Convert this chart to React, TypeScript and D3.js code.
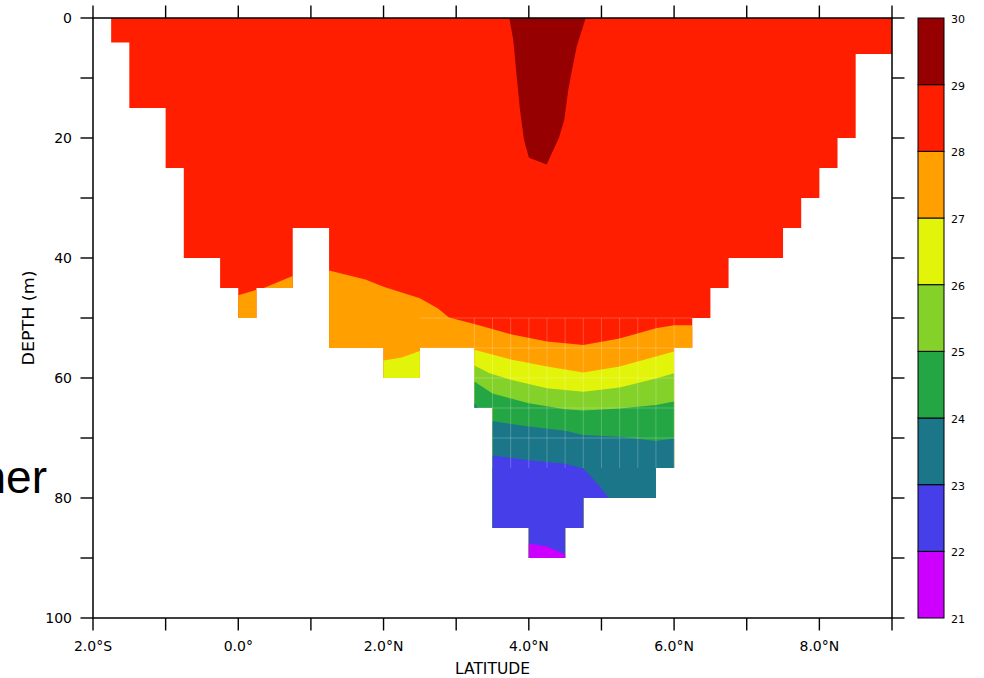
import React from "react";
import * as d3 from "d3";

// Section geometry: ocean columns (latitude edges) and the deepest sampled depth in each
const columnEdges = [-1.75, -1.5, -1.0, -0.75, -0.25, 0, 0.25, 0.75, 1.25, 2.0, 2.5, 3.25, 3.5, 4.0, 4.5, 4.75, 5.75, 6.0, 6.25, 6.5, 6.75, 7.5, 7.75, 8.0, 8.25, 8.5, 9.0];
const columnBottom = [4.1, 15, 25, 40, 45, 50, 45, 35, 55, 60, 55, 65, 85, 90, 85, 80, 75, 55, 50, 45, 40, 35, 30, 25, 20, 6];

// Contour levels and fill colours (one colour per 1°C band, 21..30)
const levels = [21, 22, 23, 24, 25, 26, 27, 28, 29, 30];
const bandColors = ["#cd00ff", "#463ee9", "#1c768a", "#24a645", "#84d12a", "#e2f40a", "#ffa000", "#ff1e00", "#960000"];

// Isotherm depths [latitude, depth m]
const iso28: [number, number][] = [[-0.25, 47], [0, 46.2], [0.25, 45.3], [0.35, 45], [0.75, 43], [1.25, 42.1], [1.75, 43.6], [2.0, 44.8], [2.5, 46.7], [2.75, 48.4], [2.9, 49.9], [3.25, 51], [3.75, 52.7], [4.25, 53.9], [4.75, 54.5], [5.25, 53.4], [5.75, 51.7], [6.0, 51.2], [6.5, 51.2]];
const iso27: [number, number][] = [[1.75, 57.5], [2.0, 57.1], [2.25, 56.6], [2.5, 55.5], [2.75, 55.8], [3.0, 56], [3.25, 55.3], [3.75, 56.9], [4.25, 58.1], [4.75, 59.1], [5.25, 58.1], [5.75, 56.4], [6.0, 55.6], [6.25, 55.6]];
const iso26: [number, number][] = [[3.2, 57.6], [3.25, 57.9], [3.46, 59.2], [3.75, 60.3], [4.25, 61.7], [4.75, 62.3], [5.25, 61.6], [5.75, 60.1], [6.0, 59.2], [6.25, 59.2]];
const iso25: [number, number][] = [[3.2, 60.2], [3.25, 60.6], [3.5, 62.6], [4.0, 64.2], [4.5, 65.2], [4.75, 65.4], [5.25, 65.1], [5.75, 64.5], [6.0, 63.9], [6.25, 63.9]];
const iso24: [number, number][] = [[3.2, 63.8], [3.25, 64.2], [3.31, 65.2], [3.5, 67.2], [4.0, 68.1], [4.5, 68.8], [4.75, 69.5], [5.25, 69.8], [5.75, 70.5], [6.0, 70.1], [6.25, 70.1]];
const iso23: [number, number][] = [[3.4, 72.8], [3.5, 72.9], [4.0, 73.7], [4.5, 74.3], [4.75, 75.1], [4.98, 78.1], [5.1, 80], [5.3, 90], [6.5, 90]];
const iso22: [number, number][] = [[3.9, 87.5], [4.0, 87.6], [4.25, 88.1], [4.5, 89.4], [4.6, 89.8]];
// Warm core (> 29°C) outline, closed at the surface
const iso29: [number, number][] = [[3.731, 0], [3.786, 3.67], [3.833, 9.8], [3.878, 15.3], [3.933, 20.3], [4.002, 23.3], [4.246, 24.4], [4.415, 19.95], [4.488, 17], [4.543, 12], [4.59, 8.95], [4.659, 4.8], [4.783, 0]];

// Isotherm that bounds each colder band from above, with that band's lower level
const coldBands: { lower: number; line: [number, number][] }[] = [
  { lower: 27, line: iso28 },
  { lower: 26, line: iso27 },
  { lower: 25, line: iso26 },
  { lower: 24, line: iso25 },
  { lower: 23, line: iso24 },
  { lower: 22, line: iso23 },
  { lower: 21, line: iso22 },
];

// Faint cell seams of the gridded thermocline fill
const seamLats = d3.range(3.25, 6.001, 0.25);
const seamDepths = [50, 55, 60, 65, 70];

const latTicks = d3.range(-2, 9.001, 1);
const latLabels = [-2, 0, 2, 4, 6, 8];
const depthTicks = d3.range(0, 100.001, 10);
const depthLabels = [0, 20, 40, 60, 80, 100];

const W = 984;
const H = 678;

function latLabel(v: number): string {
  if (v < 0) return `${Math.abs(v).toFixed(1)}°S`;
  if (v === 0) return "0.0°";
  return `${v.toFixed(1)}°N`;
}

export default function App() {
  const x = d3.scaleLinear().domain([-2, 9]).range([93, 892]);
  const y = d3.scaleLinear().domain([0, 100]).range([18, 618]);
  const c = d3.scaleLinear().domain([21, 30]).range([618, 18]);

  const line = d3
    .line<[number, number]>()
    .x((d) => x(d[0]))
    .y((d) => y(d[1]))
    .curve(d3.curveLinear);

  const below = (pts: [number, number][]) => {
    const first = pts[0][0];
    const last = pts[pts.length - 1][0];
    return line([...pts, [last, 100], [first, 100]]) + "Z";
  };

  const font = "'DejaVu Sans', sans-serif";
  const tickLen = 12.5;

  return (
    <svg width={W} height={H} style={{ position: "absolute", left: 0, top: 0, display: "block", background: "#fff" }}>
      <defs>
        <clipPath id="ocean">
          {columnBottom.map((b, i) => (
            <rect
              key={i}
              x={x(columnEdges[i])}
              y={y(0)}
              width={x(columnEdges[i + 1]) - x(columnEdges[i])}
              height={y(b) - y(0)}
              shapeRendering="crispEdges"
            />
          ))}
        </clipPath>
      </defs>

      <g clipPath="url(#ocean)">
        <rect x={x(-2)} y={y(0)} width={x(9) - x(-2)} height={y(100) - y(0)} fill={bandColors[levels.indexOf(28)]} />
        {coldBands.map((b) => (
          <path key={b.lower} d={below(b.line)} fill={bandColors[levels.indexOf(b.lower)]} />
        ))}
        <path d={line(iso29) + "Z"} fill={bandColors[levels.indexOf(29)]} />
        <g stroke="#fff" strokeOpacity={0.22} strokeWidth={1}>
          {seamLats.map((l) => (
            <line key={`sv${l}`} x1={x(l)} x2={x(l)} y1={y(50)} y2={y(75)} />
          ))}
          {seamDepths.map((d) => (
            <line key={`sh${d}`} x1={x(2.5)} x2={x(6.25)} y1={y(d)} y2={y(d)} />
          ))}
        </g>
      </g>

      {/* frame */}
      <rect x={x(-2)} y={y(0)} width={x(9) - x(-2)} height={y(100) - y(0)} fill="none" stroke="#000" strokeWidth={1.5} />

      {/* latitude ticks, top and bottom */}
      {latTicks.map((t) => (
        <g key={`lt${t}`} stroke="#000" strokeWidth={1.4}>
          <line x1={x(t)} x2={x(t)} y1={y(0)} y2={y(0) - tickLen} />
          <line x1={x(t)} x2={x(t)} y1={y(100)} y2={y(100) + tickLen} />
        </g>
      ))}
      {latLabels.map((t) => (
        <text key={`ll${t}`} x={x(t)} y={651} textAnchor="middle" fontFamily={font} fontSize={14} fill="#000">
          {latLabel(t)}
        </text>
      ))}

      {/* depth ticks, left and right */}
      {depthTicks.map((t) => (
        <g key={`dt${t}`} stroke="#000" strokeWidth={1.4}>
          <line x1={x(-2)} x2={x(-2) - tickLen} y1={y(t)} y2={y(t)} />
          <line x1={x(9)} x2={x(9) + tickLen} y1={y(t)} y2={y(t)} />
        </g>
      ))}
      {depthLabels.map((t) => (
        <text key={`dl${t}`} x={72} y={y(t)} dy="0.36em" textAnchor="end" fontFamily={font} fontSize={14} fill="#000">
          {t}
        </text>
      ))}

      {/* axis titles */}
      <text x={492.5} y={674} textAnchor="middle" fontFamily={font} fontSize={15.5} textLength={75} lengthAdjust="spacingAndGlyphs" fill="#000">
        LATITUDE
      </text>
      <text
        transform={`translate(33.5,${(y(0) + y(100)) / 2}) rotate(-90)`}
        textAnchor="middle"
        fontFamily={font}
        fontSize={16.5}
        textLength={95}
        lengthAdjust="spacingAndGlyphs"
        fill="#000"
      >
        DEPTH (m)
      </text>

      {/* colour bar */}
      {bandColors.map((col, i) => (
        <rect
          key={`cb${i}`}
          x={918}
          y={c(levels[i + 1])}
          width={26}
          height={c(levels[i]) - c(levels[i + 1])}
          fill={col}
          stroke="#000"
          strokeWidth={1}
        />
      ))}
      {levels.map((l) => (
        <text key={`cl${l}`} x={951} y={c(l) + 1} dy="0.36em" fontFamily={font} fontSize={11} fill="#000">
          {l}
        </text>
      ))}

      {/* heading running in from the left edge */}
      <text x={47} y={493} textAnchor="end" fontFamily="'Liberation Sans', Arial, sans-serif" fontSize={46} fill="#000">
        her
      </text>
    </svg>
  );
}
